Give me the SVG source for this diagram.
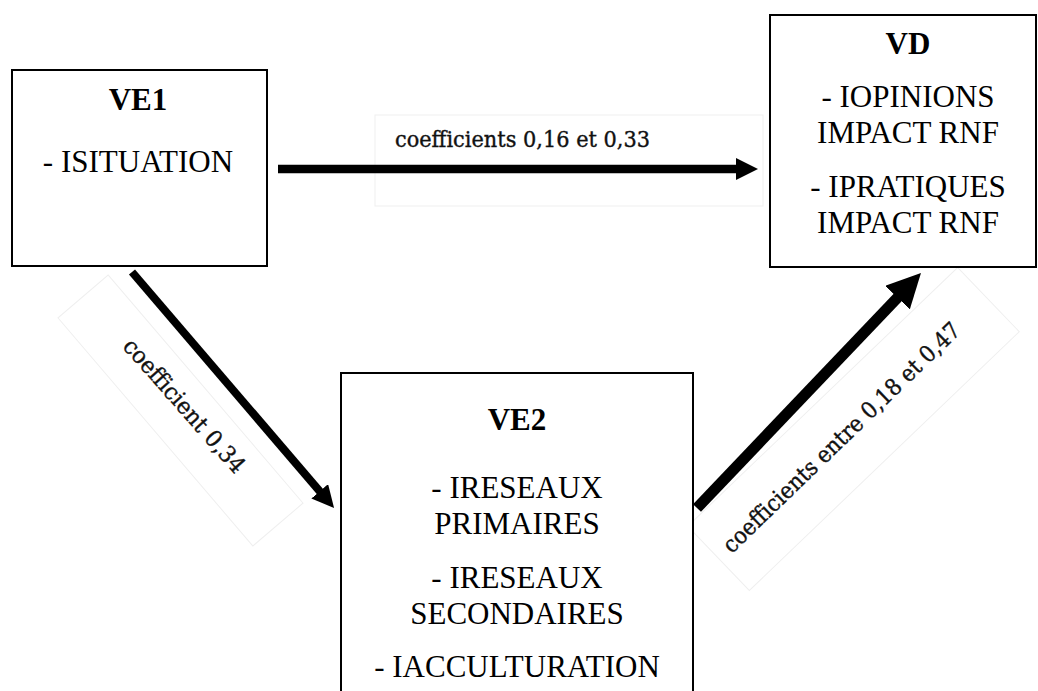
<svg xmlns="http://www.w3.org/2000/svg" width="1038" height="691" viewBox="0 0 1038 691">
<style>
.box{fill:#fff;stroke:#000;stroke-width:2}
.t{font-family:"Liberation Serif","Times New Roman",serif;font-size:31px;fill:#000;text-anchor:middle}
.b{font-weight:bold}
.lbl{font-family:"DejaVu Serif","Liberation Serif",serif;font-size:23px;fill:#111;stroke:#111;stroke-width:0.4;text-anchor:middle}
.lblbox{fill:none;stroke:#efefef;stroke-width:1}
.arr{stroke:#000;fill:none;stroke-linecap:butt}
</style>
<defs>
<marker id="head" viewBox="0 0 20 20" refX="4" refY="10" markerUnits="userSpaceOnUse" markerWidth="22" markerHeight="22" orient="auto">
<path d="M0,0 L20,10 L0,20 z" fill="#000"/>
</marker>
<marker id="headBig" viewBox="0 0 20 20" refX="4" refY="10" markerUnits="userSpaceOnUse" markerWidth="34" markerHeight="34" orient="auto">
<path d="M0,0 L20,10 L0,20 z" fill="#000"/>
</marker>
</defs>
<rect width="1038" height="691" fill="#fff"/>
<g id="connectors">
<rect class="lblbox" x="375" y="115" width="388" height="91"/>
<rect class="lblbox" x="-150" y="-33" width="300" height="66" transform="translate(180.5,410.5) rotate(49.5)"/>
<rect class="lblbox" x="-187" y="-44.5" width="374" height="89" transform="translate(853.5,429) rotate(-43.8)"/>
<line class="arr" x1="278" y1="169" x2="740.4" y2="169" stroke-width="8.5" marker-end="url(#head)"/>
<line class="arr" x1="132" y1="272" x2="322.6" y2="494.6" stroke-width="8" marker-end="url(#head)"/>
<line class="arr" x1="697" y1="508" x2="902.2" y2="292.7" stroke-width="11" marker-end="url(#headBig)"/>
<text class="lbl" x="522.5" y="147" textLength="255" lengthAdjust="spacingAndGlyphs">coefficients 0,16 et 0,33</text>
<text class="lbl" x="0" y="6" textLength="171" lengthAdjust="spacingAndGlyphs" transform="translate(183,407) rotate(48.5)">coefficient 0,34</text>
<text class="lbl" x="0" y="7" textLength="320" lengthAdjust="spacingAndGlyphs" transform="translate(842,438) rotate(-44)">coefficients entre 0,18 et 0,47</text>
</g>
<g id="VE1">
<rect class="box" x="12" y="70" width="255" height="196"/>
<text class="t b" x="138" y="110">VE1</text>
<text class="t" x="138" y="172">- ISITUATION</text>
</g>
<g id="VD">
<rect class="box" x="770" y="15" width="266" height="252"/>
<text class="t b" x="908" y="54">VD</text>
<text class="t" x="908" y="107">- IOPINIONS</text>
<text class="t" x="908" y="143">IMPACT RNF</text>
<text class="t" x="908" y="197">- IPRATIQUES</text>
<text class="t" x="908" y="233">IMPACT RNF</text>
</g>
<g id="VE2">
<rect class="box" x="341" y="373" width="352" height="340"/>
<text class="t b" x="517" y="430">VE2</text>
<text class="t" x="517" y="498">- IRESEAUX</text>
<text class="t" x="517" y="534">PRIMAIRES</text>
<text class="t" x="517" y="588">- IRESEAUX</text>
<text class="t" x="517" y="624">SECONDAIRES</text>
<text class="t" x="517" y="677">- IACCULTURATION</text>
</g>
</svg>
